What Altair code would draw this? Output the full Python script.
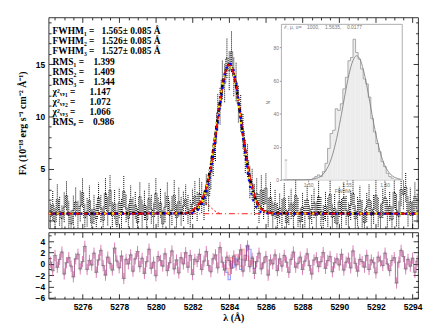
import altair as alt
import pandas as pd

# ---------------- data ----------------
wl_start = 5274.25
wl_step = 0.125
flux = [
    0.4, 1.5, -0.1, 2.0, 0.9, 0.2, 1.3, 2.4, 0.5, -0.3, 1.0, 1.8, 0.6, 1.4, 2.7, 0.3, 0.8, 1.9, -0.2, 1.1,
    0.2, 2.2, 1.2, 0.0, 2.6, 0.9, 2.9, 0.5, 1.6, -0.4, 1.7, 0.7, 2.8, 1.2, 0.2, 2.0, 0.8, 1.5, -0.2, 2.3,
    0.6, 1.5, 0.1, 2.1, 1.1, 0.4, 2.6, 0.8, 1.7, -0.3, 1.3, 2.3, 0.5, 1.0, 2.4, 0.3, 1.8, 0.9, 1.4, 2.0,
    1.1, 0.6, 1.6, 2.3, 1.4, 2.6, 2.2, 1.5, 3.0, 2.4, 4.6, 5.9, 7.4, 10.4, 11.0, 13.5, 13.2, 15.6, 14.4, 16.2,
    13.8, 13.3, 11.2, 10.3, 8.6, 6.2, 5.8, 3.7, 3.5, 2.0, 2.6, 1.2, 2.9, 1.6, 3.1, 0.8, 2.2, 0.5, 1.6,
    0.3, 1.2, 0.7, 2.1, -0.2, 1.0, 1.6, 0.4, 2.4, 0.8, -0.1, 1.3, 0.6, 2.0, 0.2, 1.1, 1.7, 0.5, 2.3, 0.9,
    0.1, 1.4, 0.8, 2.5, 0.3, 1.2, -0.3, 1.8, 0.7, 2.2, 1.0, 0.4, 1.5, 2.6, 0.2, 0.9, 1.9, 0.6, -0.2, 1.3,
    2.0, 0.5, 1.1, 2.4, 0.8, 0.3, 1.7, 2.2, 0.6, 1.4, 0.1, 2.7, 1.0, 0.4, 3.0, 2.5, 3.2, 0.9, 1.8, 0.5, 2.3, 1.2,
]
flux_err = [
    1.35, 1.42, 1.30, 1.48, 1.38, 1.33, 1.45, 1.40, 1.36, 1.31, 1.44, 1.39, 1.34, 1.47, 1.41, 1.32, 1.37, 1.46, 1.30, 1.43,
    1.38, 1.45, 1.33, 1.40, 1.48, 1.36, 1.50, 1.31, 1.42, 1.35, 1.44, 1.39, 1.47, 1.34, 1.41, 1.37, 1.46, 1.32, 1.43, 1.40,
    1.36, 1.44, 1.31, 1.47, 1.39, 1.34, 1.49, 1.38, 1.42, 1.30, 1.45, 1.41, 1.35, 1.43, 1.48, 1.33, 1.40, 1.37, 1.44, 1.46,
    1.40, 1.38, 1.45, 1.47, 1.43, 1.50, 1.48, 1.44, 1.52, 1.50, 1.58, 1.62, 1.68, 1.75, 1.78, 1.85, 1.84, 1.92, 1.88, 1.95,
    1.86, 1.85, 1.78, 1.76, 1.70, 1.63, 1.62, 1.55, 1.53, 1.47, 1.50, 1.42, 1.51, 1.44, 1.52, 1.38, 1.46, 1.35, 1.43, 1.37,
    1.44, 1.40, 1.47, 1.32, 1.41, 1.45, 1.36, 1.48, 1.39, 1.31, 1.43, 1.38, 1.46, 1.33, 1.42, 1.45, 1.35, 1.47, 1.40, 1.37,
    1.43, 1.39, 1.48, 1.34, 1.41, 1.30, 1.45, 1.38, 1.46, 1.40, 1.35, 1.44, 1.49, 1.33, 1.39, 1.45, 1.37, 1.31, 1.42, 1.47,
    1.36, 1.40, 1.48, 1.38, 1.34, 1.44, 1.46, 1.37, 1.42, 1.32, 1.50, 1.55, 1.52, 1.58, 1.41, 1.39, 1.45, 1.36, 1.43, 1.40, 1.38,
]
resid = [
    0.3, -1.2, 1.5, -0.6, 0.8, 2.1, -1.8, 0.2, 1.1, -0.4, -2.3, 0.9, 1.7, -0.9, 0.4, 3.1, -1.0, 0.6, -0.2, 1.9,
    -1.5, 0.7, 2.4, -0.3, -2.0, 1.2, 0.1, -1.1, 2.8, 0.5, -0.7, 1.4, -2.6, 0.8, 0.0, 1.6, -1.3, 0.9, 2.2, -0.5,
    1.0, -1.7, 0.4, 2.6, -0.8, 0.3, -2.1, 1.3, 0.6, -0.4, 1.8, -1.2, 0.2, 2.3, -0.9, 0.7, -1.6, 1.1, 0.0, 2.0,
    -0.6, 1.5, -1.9, 0.8, 0.4, 1.7, -1.0, 0.5, 2.2, -0.3, -1.4, 0.9, 1.6, -0.7, 2.9, 0.3, -1.1, 1.2, 0.6, -0.8,
    1.4, -0.2, 0.8, 2.5, -1.3, 0.6, 3.2, -0.5, 1.0, -1.7, 0.4, 1.9, -0.9, 0.2, 1.3, -2.0, 0.7, 0.0, 1.6, -1.2,
    0.9, -0.4, 1.5, 0.3, -1.5, 0.8, 2.1, -0.6, 0.1, 1.2, -1.0, 0.5, 1.8, -0.3, -1.8, 0.7, 1.1, -0.5, 0.4, 2.0,
    -0.8, 0.6, 1.3, -1.4, 0.2, 0.9, -0.2, 1.7, -1.1, 0.3, 1.0, -0.7, 2.3, 0.1, -1.3, 0.8, 0.4, -0.6, 1.5, -1.0,
    0.7, 0.2, -1.6, 1.2, 0.5, -0.3, 1.9, 0.0, -1.2, 0.6, 1.1, -3.4, 0.3, 2.4, 1.3, -0.9, 0.8, -0.4, 1.0, -1.5, 0.5,
]

# fitted profiles
fit_wl = [5274.15, 5281.5, 5281.75, 5282.0, 5282.25, 5282.5, 5282.75, 5283.0, 5283.25, 5283.5, 5283.75,
          5284.0, 5284.25, 5284.5, 5284.75, 5285.0, 5285.25, 5285.5, 5285.75, 5286.0, 5286.25, 5286.5, 5294.3]
fit_black = [0.68, 0.71, 0.75, 0.85, 1.14, 1.81, 3.13, 5.30, 8.26, 11.47, 14.02, 15.0, 14.02, 11.47, 8.26, 5.30, 3.13, 1.81, 1.14, 0.85, 0.75, 0.71, 0.68]
fit_yellow = [0.68, 0.70, 0.74, 0.84, 1.12, 1.75, 3.10, 5.35, 8.40, 11.60, 14.10, 14.90, 13.90, 11.20, 7.95, 5.00, 2.90, 1.70, 1.10, 0.82, 0.72, 0.69, 0.68]
fit_red = [0.66, 0.70, 0.78, 1.00, 1.45, 2.00, 3.20, 5.20, 8.10, 11.40, 14.00, 15.00, 14.05, 11.50, 8.30, 5.35, 3.15, 1.80, 1.12, 0.84, 0.74, 0.70, 0.66]
fit_blue = [0.66, 0.68, 0.70, 0.75, 0.95, 1.50, 2.70, 4.70, 7.70, 11.00, 13.80, 15.10, 14.40, 11.60, 7.90, 4.60, 2.30, 1.20, 0.80, 0.70, 0.67, 0.66, 0.66]
comp_wl = [5281.6, 5281.8, 5282.0, 5282.2, 5282.4, 5282.6, 5282.8, 5283.0, 5283.2, 5283.4, 5283.6]
comp_red = [0.66, 0.75, 0.95, 1.3, 1.6, 1.75, 1.6, 1.25, 0.95, 0.75, 0.68]
cont_wl = [5274.15, 5294.3]
cont_level = [0.66, 0.66]

# residuals of alternative fits near the line
alt_res_wl = [5283.75, 5283.875, 5284.0, 5284.125, 5284.25, 5284.375, 5284.5, 5284.625, 5284.75,
              5284.875, 5285.0, 5285.125, 5285.25, 5285.375, 5285.5]
alt_res_blue = [0.2, -1.5, -2.8, 0.4, -0.6, 1.0, 0.5, -1.0, 0.8, 1.5, 3.3, 2.6, 1.2, -0.8, 0.3]
alt_res_red = [0.6, -0.8, -1.9, 1.1, 0.2, 1.6, 1.2, -0.4, 2.6, 0.9, 1.4, 0.6, -0.2, 0.4, -0.5]

# inset: FWHM distribution (group 0 = overflow bin at the left edge)
hist_fwhm = [1.4709, 1.5070, 1.5103, 1.5137, 1.5170, 1.5203, 1.5237, 1.5270, 1.5303, 1.5337, 1.5370, 1.5403,
             1.5437, 1.5470, 1.5503, 1.5537, 1.5570, 1.5603, 1.5637, 1.5670, 1.5703, 1.5737, 1.5770, 1.5803,
             1.5837, 1.5870, 1.5903, 1.5937, 1.5970, 1.6003, 1.6037, 1.6070, 1.6103]
hist_count = [12, 1, 2, 3, 2, 5, 10, 19, 28, 30, 43, 42, 46, 55, 62, 72, 74, 85, 77, 73, 67, 61, 58, 50,
              37, 29, 22, 17, 11, 8, 4, 2, 1]
hist_group = [0] + [1] * 32
bin_width = 0.00333
gauss_fwhm = [1.468, 1.4935, 1.5035, 1.5085, 1.5135, 1.5185, 1.5235, 1.5285, 1.5335, 1.5385, 1.5435, 1.5485,
              1.5535, 1.5585, 1.5635, 1.5685, 1.5735, 1.5785, 1.5835, 1.5885, 1.5935, 1.5985, 1.6035, 1.6085,
              1.6135, 1.621]
gauss_n = [0, 0.03, 0.24, 0.6, 1.4, 3.0, 5.9, 10.6, 17.9, 27.7, 39.6, 52.4, 64.0, 72.1, 75.0, 72.1, 64.0,
           52.4, 39.6, 27.7, 17.9, 10.6, 5.9, 3.0, 1.4, 0.4]

S = "\u00a0"  # non-breaking space keeps the column gaps
stats_lines = [
    "FWHM\u2081 =" + S * 3 + "1.565\u00b1 0.085 \u00c5",
    "FWHM\u2082 =" + S * 3 + "1.526\u00b1 0.085 \u00c5",
    "FWHM\u2083 =" + S * 3 + "1.527\u00b1 0.085 \u00c5",
    "RMS\u2081 =" + S * 4 + "1.399",
    "RMS\u2082 =" + S * 4 + "1.409",
    "RMS\u2083 =" + S * 4 + "1.344",
    "\u03c7\u00b2\u1d65,\u2081 =" + S * 6 + "1.147",
    "\u03c7\u00b2\u1d65,\u2082 =" + S * 6 + "1.072",
    "\u03c7\u00b2\u1d65,\u2083 =" + S * 6 + "1.066",
    "RMS\u2091 =" + S * 4 + "0.986",
]
inset_title = "\u2130, \u03bc, \u03c3=" + S * 4 + "1000," + S * 4 + "1.5635," + S * 4 + "0.0177"

x_major = [5276, 5278, 5280, 5282, 5284, 5286, 5288, 5290, 5292, 5294]
x_minor = [5274.5 + 0.5 * k for k in range(40) if (5274.5 + 0.5 * k) % 2 != 0]
y_labels = [5, 10, 15]
y_major = [0, 5, 10, 15]
y_minor = [k for k in range(0, 20) if k % 5 != 0]
r_major = [4, 2, 0, -2, -4, -6]
r_minor = [5, 3, 1, -1, -3, -5]

# ---------------- frames ----------------
n = len(flux)
wl = [round(wl_start + wl_step * i, 4) for i in range(n)]
spec = pd.DataFrame({"wl": wl, "flux": flux, "err": flux_err, "res": resid})
spec["lo"] = spec["flux"] - spec["err"]
spec["hi"] = spec["flux"] + spec["err"]
spec["rlo"] = spec["res"] - 1
spec["rhi"] = spec["res"] + 1
fits = pd.DataFrame({"wl": fit_wl, "black": fit_black, "yellow": fit_yellow, "red": fit_red, "blue": fit_blue})
comp = pd.DataFrame({"wl": comp_wl, "f": comp_red})
cont = pd.DataFrame({"wl": cont_wl, "f": cont_level})
altres = pd.DataFrame({"wl": alt_res_wl, "b": alt_res_blue, "r": alt_res_red})
hist = pd.DataFrame({"fw": hist_fwhm, "n": hist_count, "g": hist_group})
hist["x0"] = hist["fw"] - bin_width / 2
hist["x1"] = hist["fw"] + bin_width / 2
edges = []
for g, x0, x1, c in zip(hist_group, hist["x0"], hist["x1"], hist_count):
    edges.append({"g": g, "x": x0, "n": c})
    edges.append({"g": g, "x": x1, "n": c})
outl = pd.DataFrame(edges)
outl["o"] = range(len(outl))
gauss = pd.DataFrame({"fw": gauss_fwhm, "n": gauss_n})
frame = pd.DataFrame({"x0": [1.465], "x1": [1.623], "y0": [0], "y1": [94]})
one = pd.DataFrame({"k": [0]})

W, H_TOP, H_BOT = 373, 213, 67
SANS = "Liberation Sans"
SERIF = "Liberation Serif"

xs = alt.Scale(domain=[5274.15, 5294.3], nice=False, zero=False)
ys = alt.Scale(domain=[-0.75, 19.5], nice=False, zero=False)
rs = alt.Scale(domain=[-6.2, 5.6], nice=False, zero=False)


def tick_axis(orient, offset, values, size):
    return alt.Axis(orient=orient, offset=offset, values=values, tickSize=size, labels=False,
                    domain=False, grid=False, title=None, tickWidth=0.8)


MAJ, MIN = 5, 2.5
# top panel axes (inward ticks on all four sides)
tx = [tick_axis("top", -H_TOP, x_major, MAJ), tick_axis("top", -H_TOP, x_minor, MIN),
      tick_axis("bottom", -H_TOP, x_major, MAJ), tick_axis("bottom", -H_TOP, x_minor, MIN)]
ty = [alt.Axis(orient="left", values=y_labels, tickSize=0,
               title="F\u03bb (10\u207b\u00b9\u2078 erg s\u207b\u00b9 cm\u207b\u00b2 \u00c5\u207b\u00b9)",
               domain=False, grid=False, labelPadding=4, titlePadding=8,
               titleFont=SERIF, titleFontSize=10, titleFontWeight="bold"),
      tick_axis("right", -W, y_major, MAJ), tick_axis("right", -W, y_minor, MIN),
      tick_axis("left", -W, y_major, MAJ), tick_axis("left", -W, y_minor, MIN)]
# bottom panel axes
bx = [alt.Axis(orient="bottom", values=x_major, format="d", tickSize=0, title="\u03bb (\u00c5)",
               domain=False, grid=False, labelPadding=4, titlePadding=1,
               titleFont=SERIF, titleFontSize=10, titleFontWeight="bold"),
      tick_axis("top", -H_BOT, x_major, MAJ), tick_axis("top", -H_BOT, x_minor, MIN),
      tick_axis("bottom", -H_BOT, x_major, MAJ), tick_axis("bottom", -H_BOT, x_minor, MIN)]
by = [alt.Axis(orient="left", values=r_major, tickSize=0, title=None, domain=False, grid=False, labelPadding=4),
      tick_axis("right", -W, r_major, MAJ), tick_axis("right", -W, r_minor, MIN),
      tick_axis("left", -W, r_major, MAJ), tick_axis("left", -W, r_minor, MIN)]


def X(f, i):
    return alt.X(f, type="quantitative", scale=xs, axis=tx[i] if i < len(tx) else None)


def Y(f, i):
    return alt.Y(f, type="quantitative", scale=ys, axis=ty[i] if i < len(ty) else None)


base = alt.Chart(spec)
err_rules = base.mark_rule(color="black", strokeWidth=1.0, strokeDash=[1, 1], clip=True).encode(
    x=X("wl", 0), y=Y("lo", 0), y2="hi")
spec_line = base.mark_line(interpolate="step", color="black", strokeWidth=1.0, strokeDash=[1, 1], clip=True).encode(
    x=X("wl", 1), y=Y("flux", 1))
cont_l = alt.Chart(cont).mark_line(color="#ff0000", strokeWidth=0.9, strokeDash=[6, 3, 1, 3]).encode(
    x=X("wl", 2), y=Y("f", 2))
fb = alt.Chart(fits)
fit_k = fb.mark_line(color="black", strokeWidth=2.6, strokeDash=[4, 2], interpolate="monotone", clip=True).encode(
    x=X("wl", 3), y=Y("black", 3))
fit_r = fb.mark_line(color="#ff0000", strokeWidth=1.8, strokeDash=[6, 3], interpolate="monotone", clip=True).encode(
    x=X("wl", 9), y=Y("red", 4))
fit_y = fb.mark_line(color="#ffee00", strokeWidth=2.0, strokeDash=[2, 6], interpolate="monotone", clip=True).encode(
    x=X("wl", 9), y=Y("yellow", 9))
fit_b = fb.mark_line(color="#0000ff", strokeWidth=2.0, strokeDash=[2, 5], strokeDashOffset=3,
                     interpolate="monotone", clip=True).encode(x=X("wl", 9), y=Y("blue", 9))
comp_l = alt.Chart(comp).mark_line(color="#ff0000", strokeWidth=0.9, strokeDash=[2, 2], interpolate="monotone").encode(
    x=X("wl", 9), y=Y("f", 9))

stats = alt.Chart(one).mark_text(align="left", baseline="top", font=SERIF, fontSize=9.5, fontWeight="bold",
                                 lineHeight=10.2, color="black").encode(
    x=alt.value(4), y=alt.value(9), text=alt.value(stats_lines))

main = alt.layer(err_rules, spec_line, cont_l, fit_k, fit_r, fit_y, fit_b, comp_l, stats).resolve_axis(
    x="independent", y="independent")

# inset layers
ixs = alt.Scale(domain=[1.465, 1.623], range=[235, 357], nice=False, zero=False)
iys = alt.Scale(domain=[0, 94], range=[164, 7], nice=False, zero=False)
iax_x = alt.Axis(orient="bottom", offset=-(H_TOP - 164), values=[1.50, 1.55, 1.60], format=".2f", title="FWHM",
                 labelFontSize=5, titleFontSize=5, labelColor="#777777", titleColor="#777777", tickSize=2,
                 tickColor="#999999", domain=False, grid=False, labelPadding=1, titlePadding=1,
                 titleFont=SANS, titleFontWeight="normal", labelFontWeight="normal")
iax_y = alt.Axis(orient="left", offset=-235, values=[0, 20, 40, 60, 80], title="N",
                 labelFontSize=5, titleFontSize=5, labelColor="#777777", titleColor="#777777", tickSize=2,
                 tickColor="#999999", domain=False, grid=False, labelPadding=1, titlePadding=2,
                 titleFont=SANS, titleFontWeight="normal", labelFontWeight="normal")
IX = lambda f: alt.X(f, type="quantitative", scale=ixs, axis=iax_x)
IY = lambda f: alt.Y(f, type="quantitative", scale=iys, axis=iax_y)

box = alt.Chart(frame).mark_rect(fill="white", stroke="#999999", strokeWidth=0.8).encode(
    x=IX("x0"), x2="x1", y=IY("y0"), y2="y1")
bars = alt.Chart(hist).mark_rect(fill="#ececec", strokeWidth=0).encode(
    x=IX("x0"), x2="x1", y=IY("n"), y2=alt.datum(0))
outline = alt.Chart(outl).mark_line(color="#8a8a8a", strokeWidth=0.7).encode(
    x=IX("x"), y=IY("n"), detail="g:N", order="o:Q")
gcurve = alt.Chart(gauss).mark_line(color="#777777", strokeWidth=0.8, interpolate="monotone").encode(
    x=IX("fw"), y=IY("n"))
inset_t = alt.Chart(one).mark_text(align="left", baseline="top", font=SANS, fontSize=5, color="#777777").encode(
    x=alt.value(238), y=alt.value(8), text=alt.value(inset_title))
inset = alt.layer(box, bars, outline, gcurve, inset_t)

top = alt.layer(main, inset).resolve_scale(x="independent", y="independent").properties(width=W, height=H_TOP)


# residual panel
def RX(f, i):
    return alt.X(f, type="quantitative", scale=xs, axis=bx[i] if i < len(bx) else None)


def RY(f, i):
    return alt.Y(f, type="quantitative", scale=rs, axis=by[i] if i < len(by) else None)


rb = alt.Chart(spec)
ab = alt.Chart(altres)
r_blue = ab.mark_line(interpolate="step", color="#6f7dff", strokeWidth=1.2, opacity=0.7).encode(
    x=RX("wl", 0), y=RY("b", 0))
r_red = ab.mark_line(interpolate="step", color="#ff6f6f", strokeWidth=1.2, opacity=0.6).encode(
    x=RX("wl", 1), y=RY("r", 1))
r_err = rb.mark_rule(color="#d0479c", strokeWidth=1.0, opacity=0.7, clip=True).encode(
    x=RX("wl", 2), y=RY("rlo", 2), y2="rhi")
r_line = rb.mark_line(interpolate="step", color="#8a2266", strokeWidth=0.8, opacity=0.85, clip=True).encode(
    x=RX("wl", 3), y=RY("res", 3))
r_cross = rb.mark_point(shape="M-1,0L1,0M0,-1L0,1", size=22, filled=False, color="#8c8c8c", strokeWidth=0.6,
                        opacity=0.9, clip=True).encode(x=RX("wl", 4), y=RY("res", 4))
bottom = alt.layer(r_blue, r_red, r_err, r_line, r_cross).resolve_axis(
    x="independent", y="independent").properties(width=W, height=H_BOT)

chart = alt.vconcat(top, bottom, spacing=2).properties(
    padding={"left": 9, "top": 7, "right": 5, "bottom": 2}
).configure_view(stroke="black", strokeWidth=0.8).configure_axis(
    labelFont=SANS, labelFontSize=8.5, labelFontWeight="bold", labelColor="black",
    tickColor="black", titleColor="black"
)

chart.save("out.html", embed_options={"renderer": "svg", "actions": False})
